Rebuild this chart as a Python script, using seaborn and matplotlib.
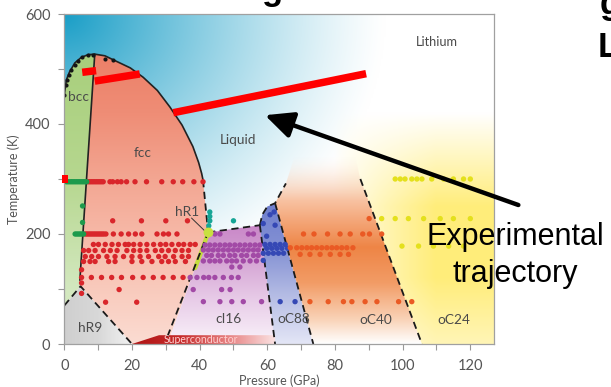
import numpy as np
import pandas as pd
import matplotlib
matplotlib.use("Agg")
import matplotlib.pyplot as plt
import seaborn as sns
from matplotlib.patches import Polygon, Rectangle
from matplotlib.colors import LinearSegmentedColormap, to_rgba

# ---------------- data ----------------
x_ticks = [0, 20, 40, 60, 80, 100, 120]
y_ticks = [0, 200, 400, 600]

melt_P = [0, 0.6, 1.5, 3.1, 5, 7, 9, 12, 15.4, 19.5, 23.3, 27.5, 31.2, 34.8, 38, 39.7, 40.6, 41]
melt_T = [453, 480, 494, 511, 521, 526, 527, 524, 514, 502, 485, 461, 431, 398, 359, 330, 310, 298]
bccfcc_P = [9, 4.6]
bccfcc_T = [527, 116]
hr9_P = [0, 4.8, 20]
hr9_T = [70, 105, 0]
fccliq_P = [41, 42.5]
fccliq_T = [298, 203]
ci16L_P = [30.5, 42.5]
ci16L_T = [14, 203]
ci16top_P = [42.5, 57.8]
ci16top_T = [203, 216]
oc88L_P = [57.8, 62.3]
oc88L_T = [216, 0]
oc88top_P = [57.8, 58.5, 60, 62.3, 65.5]
oc88top_T = [216, 235, 250, 256, 292]
oc88R_P = [62.3, 73.6]
oc88R_T = [256, 0]
oc24L_P = [87.5, 105.7]
oc24L_T = [300, 0]
hr1_P = [38.7, 42.7]
hr1_T = [138, 205]
strip_P = [20, 28, 62.3, 62.3]
strip_T = [0, 16, 16, 0]

red_rows = {
    295: [7, 7.5, 8, 8.5, 9, 9.5, 10, 10.5, 11, 11.5, 13.5, 14.3, 15.7, 16.8, 18.4, 20.9, 24.3, 28.8, 32.2, 35, 38.3, 41],
    224: [14.3, 22.8, 30, 36.4],
    200: [6.2, 6.7, 7.2, 7.7, 8.2, 8.7, 9.2, 9.7, 10.2, 10.7, 11.2, 11.7, 12.3, 14.5, 16.8, 19, 21, 22.9, 27.4, 29.3, 30.8, 33.3],
    181: [8.6, 10.1, 12.1, 14.1, 16.0, 18.0, 19.0, 20.5, 22.4, 24.4, 26.4, 28.4, 30.0, 31.8, 33.8, 35.3, 37.2, 38.7],
    170: [5.7, 7.2, 9.1, 11.6, 13.6, 15.6, 18.5, 20.5, 22.4, 24.4, 26.9, 28.8, 30.8, 32.8, 34.8, 36.7],
    159: [6.2, 8.1, 10.1, 12.6, 15.0, 17.5, 20.0, 22.4, 24.9, 27.9, 29.8, 32.3, 34.8, 36.7],
    150: [5.7, 7.6, 9.1, 13.1, 15.0, 20.0, 22.9, 25.9, 28.8, 30.8, 32.8, 35.8],
    121: [5.1, 8, 11, 14, 16.9, 20.2, 23.3, 26.3, 29.2, 32.2, 35.1],
}
red_extra_P = [5.1, 5.1, 5.1, 16.2, 12.2, 21.4]
red_extra_T = [135, 111, 92, 99, 76, 76]

green_rows = {
    295: [0.6, 1.1, 1.6, 2.1, 2.6, 3.1, 3.6, 4.1, 4.6, 5.1, 5.6, 6.1, 6.6],
    200: [3.2, 3.7, 4.2, 4.7, 5.2, 5.7],
}
green_extra_P = [5.4, 5.4]
green_extra_T = [251, 221]

teal_P = [43, 43, 43, 42.7, 50]
teal_T = [240, 232, 224, 215, 224]

purple_rows = {
    200: [44.5, 46, 54.4, 55.9],
    180: [41.6, 43.0, 44.5, 46.0, 47.5, 48.9, 50.4, 51.9, 53.4, 54.9, 56.4, 57.8],
    171: [41.1, 42.6, 44.0, 45.5, 47.0, 48.5, 50.0, 51.4, 52.9, 54.4, 55.9, 57.3],
    161: [42.1, 43.5, 45.5, 47.0, 48.9, 50.4, 52.4, 53.9, 55.9, 57.3],
    151: [41.1, 43.0, 44.5, 46.0, 48.0, 49.5, 50.9, 52.9, 54.9, 56.8],
    140: [49.5, 51.9],
    121: [37.2, 39.2, 41.2, 42.7, 44.5, 47.0, 49.4, 51.4],
    99: [38.1, 46.5, 49.0],
    77: [41.1, 46.0, 49.5, 52.9, 58.3],
}

blue_rows = {
    181: [59.3, 60.8, 62.3, 63.8, 65.3],
    174: [59.8, 61.3, 62.8, 64.3, 66.0],
    165: [58.8, 60.3, 61.8, 63.3, 64.8],
    152: [58.8],
    77: [63.8, 68.2],
}
blue_extra_P = [58.8, 60.8, 62.3, 59.8, 62.0]
blue_extra_T = [219, 235, 216, 196, 240]

orange_rows = {
    228: [90.1],
    200: [70.7, 73.8, 77.8, 81.5, 84.5, 88.2, 90.2, 93.8],
    175: [66.8, 68.7, 70.2, 71.7, 73.1, 74.6, 76.1, 77.6, 79.1, 80.5, 82.0, 83.5, 85.3],
    163: [69.7, 72.6, 75.6, 78.6, 81.5, 84.0],
    77: [72.6, 78.0, 82.5, 85.0, 88.9, 92.4, 98.8, 102.7],
}

yellow_rows = {
    300: [97.8, 99.3, 100.7, 102.7, 104.2, 105.7, 108.6, 112.1, 115, 118, 120],
    228: [93.8, 97.8, 101.7, 106.2, 111.1, 115, 120],
    178: [99.8, 104.7, 109.1, 113.6, 118],
}

black_P = [0, 0.4, 0.7, 1.4, 2.1, 3.1, 4.1, 5.3, 7, 8.4, 12, 14.4]
black_T = [453, 471, 480, 489, 498, 507, 515, 521, 525, 526, 519, 516]

# trajectory overlay
traj_segments = [((5.3, 494), (9.4, 497)), ((9.0, 478), (22.3, 491)), ((32.2, 420.5), (89.2, 491.5))]
arrow_head = (59.3, 416)
arrow_tail = (134.2, 252.7)

# ---------------- build point table ----------------
rows = []
def add_rows(d, phase):
    for T, Ps in d.items():
        for p in Ps:
            rows.append((p, T, phase))
def add_pts(Ps, Ts, phase):
    for p, t in zip(Ps, Ts):
        rows.append((p, t, phase))

add_rows(red_rows, "fcc"); add_pts(red_extra_P, red_extra_T, "fcc")
add_rows(green_rows, "bcc"); add_pts(green_extra_P, green_extra_T, "bcc")
add_pts(teal_P, teal_T, "liq")
add_rows(purple_rows, "cI16")
add_rows(blue_rows, "oC88"); add_pts(blue_extra_P, blue_extra_T, "oC88")
add_rows(orange_rows, "oC40")
add_rows(yellow_rows, "oC24")
df = pd.DataFrame(rows, columns=["P", "T", "phase"])
dfb = pd.DataFrame({"P": black_P, "T": black_T})

palette = {"fcc": "#d9262b", "bcc": "#1c9a4c", "liq": "#17a596", "cI16": "#a24aa6",
           "oC88": "#3548b5", "oC40": "#ea5a24", "oC24": "#e4e01c"}

# ---------------- figure ----------------
sns.set_style("ticks")
plt.rcParams["font.family"] = ["Lato", "DejaVu Sans"]

W, H = 611, 387
fig = plt.figure(figsize=(W / 100, H / 100), dpi=100)
L, R, Tp, B = 64.3, 494, 14, 344
ax = fig.add_axes([L / W, 1 - B / H, (R - L) / W, (B - Tp) / H])
XMAX, YMAX = 127, 600

# background (liquid) gradient
nx, ny = 300, 300
Pg, Tg = np.meshgrid(np.linspace(0, XMAX, nx), np.linspace(0, YMAX, ny))
img = np.ones((ny, nx, 3))
d = np.sqrt((Pg / 95) ** 2 + ((600 - Tg) / 520) ** 2)
wt = np.clip(1 - d, 0, 1) ** 1.2
teal = np.array([0.10, 0.62, 0.78])
img = img * (1 - wt[..., None]) + teal * wt[..., None]
wy = (np.clip((Pg - 80) / 30, 0, 1) ** 0.8) * np.clip((420 - Tg) / 170, 0, 1) * (0.55 + 0.45 * np.clip(Tg / 120, 0, 1))
yel = np.array([1.0, 0.93, 0.48])
img = img * (1 - wy[..., None]) + yel * wy[..., None]
ax.imshow(img, extent=[0, XMAX, 0, YMAX], origin="lower", aspect="auto", zorder=0, interpolation="bilinear")


def grad_fill(P, T, stops, vertical=True, z=1.0):
    pts = list(zip(P, T))
    poly = Polygon(pts, closed=True, facecolor="none", edgecolor="none")
    ax.add_patch(poly)
    x0, x1, y0, y1 = min(P), max(P), min(T), max(T)
    lo, hi = (y0, y1) if vertical else (x0, x1)
    st = sorted(stops, key=lambda s: s[0])
    norm = [(min(max((v - lo) / (hi - lo), 0), 1), to_rgba(c)) for v, c in st]
    if norm[0][0] > 0:
        norm.insert(0, (0.0, norm[0][1]))
    if norm[-1][0] < 1:
        norm.append((1.0, norm[-1][1]))
    cmap = LinearSegmentedColormap.from_list("g", norm)
    g = np.linspace(0, 1, 256)
    arr = g[:, None] if vertical else g[None, :]
    im = ax.imshow(arr, cmap=cmap, vmin=0, vmax=1, extent=[x0, x1, y0, y1], origin="lower",
                   aspect="auto", zorder=z, interpolation="bilinear")
    im.set_clip_path(poly)


# phase regions
bcc_P = melt_P[:7] + [4.6, 4.8, 0]
bcc_T = melt_T[:7] + [116, 105, 70]
grad_fill(bcc_P, bcc_T, [(527, "#a8cf7c"), (300, "#b6d78f"), (100, "#d3e8bf")])

fcc_P = melt_P[6:] + [42.5, 30.5, 20, 4.8, 4.6]
fcc_T = melt_T[6:] + [203, 0, 0, 105, 116]
grad_fill(fcc_P, fcc_T, [(527, "#ec8068"), (420, "#ef8d76"), (300, "#f3a692"), (180, "#f7bcab"), (0, "#fbdcd2")])

hr9P = [0, 0, 4.8, 20]
hr9T = [0, 70, 105, 0]
grad_fill(hr9P, hr9T, [(0, "#cfcfcf"), (10, "#d8d8d8"), (20, "#f2f2f2")], vertical=False)

ci_P = [30.5, 42.5, 57.8, 62.3]
ci_T = [0, 203, 216, 0]
grad_fill(ci_P, ci_T, [(216, "#c987c8"), (160, "#d3a0d2"), (80, "#e8cce8"), (0, "#faf3fa")])

o88_P = oc88top_P[:4] + [73.6, 62.3]
o88_T = oc88top_T[:4] + [0, 0]
grad_fill(o88_P, o88_T, [(256, "#6e7ecd"), (170, "#8592d4"), (80, "#b9c0e6"), (0, "#e4e6f6")])

o40_P = [62.3, 65.5, 68, 86, 87.5, 105.7, 73.6]
o40_T = [256, 292, 340, 340, 300, 0, 0]
grad_fill(o40_P, o40_T, [(340, (1, 0.95, 0.92, 0.0)), (300, (0.98, 0.86, 0.78, 0.55)), (260, "#f8c2a2"),
                         (225, "#f4a87b"), (175, "#ee8546"),
                         (110, "#f29c66"), (45, "#f9d2b6"), (0, "#ffffff")])

# superconductor strip
grad_fill(strip_P, strip_T, [(20, "#b01414"), (34, "#c52a2a"), (48, "#e67f7f"), (62.3, "#fbe4e4")],
          vertical=False, z=1.5)

# boundaries
ax.plot(melt_P, melt_T, color="#222", lw=1.2, zorder=2)
ax.plot(bccfcc_P, bccfcc_T, color="#222", lw=1.2, zorder=2)
ax.plot(hr1_P, hr1_T, color="#c4dd3c", lw=3.0, zorder=2, solid_capstyle="round")
dash = dict(color="#1a1a1a", lw=1.3, ls=(0, (4, 2.5)), zorder=2.2)
for xs, ys in [(hr9_P, hr9_T), (fccliq_P, fccliq_T), (ci16L_P, ci16L_T), (ci16top_P, ci16top_T),
               (oc88L_P, oc88L_T), (oc88top_P, oc88top_T), (oc88R_P, oc88R_T), (oc24L_P, oc24L_T)]:
    ax.plot(xs, ys, **dash)

# data points
sns.scatterplot(data=df, x="P", y="T", hue="phase", palette=palette, s=15, linewidth=0,
                legend=False, ax=ax, zorder=3)
sns.scatterplot(data=dfb, x="P", y="T", color="#151515", s=9, linewidth=0, legend=False, ax=ax, zorder=3)
ax.scatter([42.6], [203], s=50, color="#c8e040", linewidth=0, zorder=3.5)
ax.plot([37.6, 41.8], [229, 204], color="#333", lw=0.7, zorder=3.4)

# labels inside
lab = dict(color="#4a4a4a", fontsize=9.8, ha="center", va="center", zorder=4)
ax.text(110, 549, "Lithium", **{**lab, "fontsize": 9.2})
ax.text(4.2, 449, "bcc", **lab)
ax.text(23.2, 347, "fcc", **lab)
ax.text(51.2, 371, "Liquid", **lab)
ax.text(36.2, 240, "hR1", **lab)
ax.text(7.6, 30, "hR9", **lab)
ax.text(48.5, 45, "cI16", **lab)
ax.text(67.8, 45, "oC88", **lab)
ax.text(92.0, 44, "oC40", **lab)
ax.text(115.2, 44, "oC24", **lab)
ax.text(40.5, 8.5, "Superconductor", color="#ffd0d0", fontsize=7.6, ha="center", va="center", zorder=4)

# axes styling
ax.set_xlim(0, XMAX)
ax.set_ylim(0, YMAX)
ax.set_xticks(np.arange(0, 121, 10))
ax.set_xticklabels([str(v) if v in x_ticks else "" for v in range(0, 121, 10)])
ax.set_yticks(np.arange(0, 601, 100))
ax.set_yticklabels([str(v) if v in y_ticks else "" for v in range(0, 601, 100)])
ax.tick_params(axis="both", direction="out", length=4, width=0.8, color="#999", labelcolor="#555",
               labelsize=10.5)
ax.tick_params(axis="x", pad=7)
ax.tick_params(axis="y", pad=6)
for s in ax.spines.values():
    s.set_color("#a0a0a0")
    s.set_linewidth(0.9)
    s.set_zorder(5)
ax.set_xlabel("")
ax.set_ylabel("")
fig.text(14 / W, 1 - 179 / H, "Temperature (K)", rotation=90, ha="center", va="center",
         fontsize=9, color="#555")
fig.text(279 / W, 1 - 381 / H, "Pressure (GPa)", ha="center", va="center", fontsize=9, color="#555")

# experimental trajectory overlay
ax.add_patch(Rectangle((-0.6, 292), 1.7, 15, color="#ff0000", clip_on=False, zorder=6, lw=0))
for (p0, t0), (p1, t1) in traj_segments:
    ax.plot([p0, p1], [t0, t1], color="#ff0000", lw=5.4, solid_capstyle="butt", zorder=6)
ax.annotate("", xy=arrow_head, xytext=arrow_tail, xycoords="data", textcoords="data",
            annotation_clip=False,
            arrowprops=dict(arrowstyle="-|>,head_length=0.85,head_width=0.4", lw=3.2, color="black",
                            mutation_scale=20, shrinkA=0, shrinkB=0), zorder=7)
fig.text(515 / W, 1 - 245 / H, "Experimental", ha="center", va="baseline", fontsize=22,
         family="Liberation Sans", color="black", zorder=8)
fig.text(515 / W, 1 - 282 / H, "trajectory", ha="center", va="baseline", fontsize=22,
         family="Liberation Sans", color="black", zorder=8)

# cropped slide title fragments (cut off at the picture's edge, as in the reference)
fig.text(598 / W, 1 - 57 / H, "L", ha="left", va="baseline", fontsize=25, fontweight="bold",
         family="Liberation Sans", color="black")
fig.text(600 / W, 1 - 14 / H, "g", ha="left", va="baseline", fontsize=25, fontweight="bold",
         family="Liberation Sans", color="black")
fig.text(262 / W, 1 - 0 / H, "g", ha="left", va="baseline", fontsize=25, fontweight="bold",
         family="Liberation Sans", color="black")

fig.savefig("out.png", dpi=100)
